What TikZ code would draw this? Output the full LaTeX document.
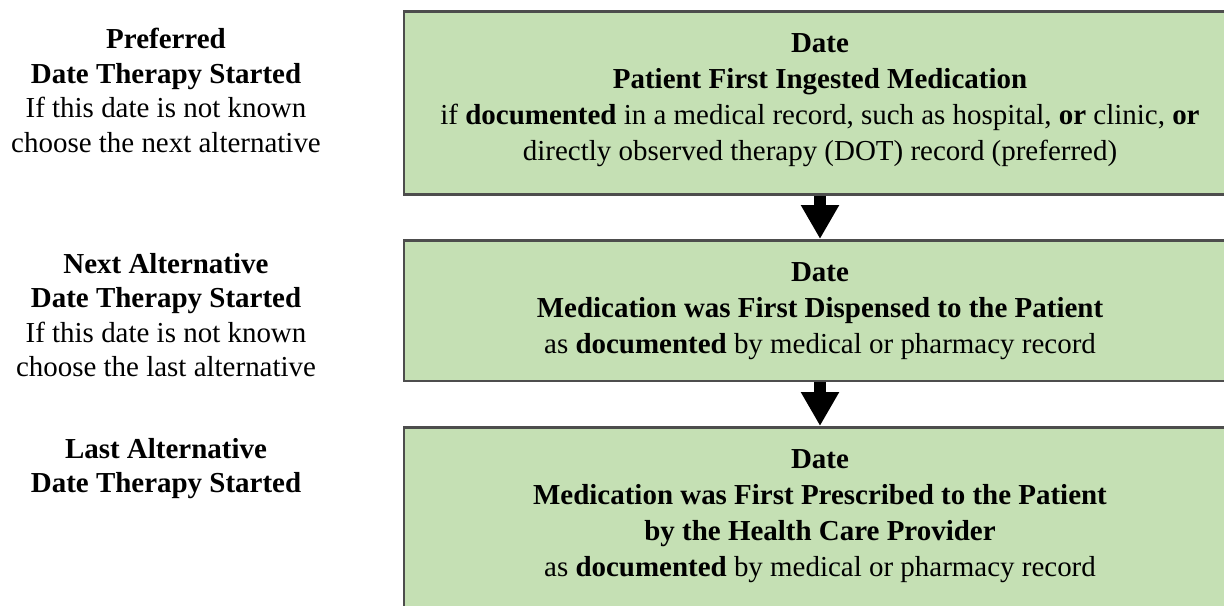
\documentclass[tikz,border=0pt]{standalone}
\usepackage{fontspec}
\setmainfont{Liberation Serif}
\usetikzlibrary{arrows.meta,positioning}
\definecolor{boxgreen}{HTML}{C5E0B4}
\definecolor{boxline}{HTML}{4D4D4D}

\begin{document}
\begin{tikzpicture}[
	datebox/.style={draw=boxline, line width=1.8pt, fill=boxgreen, anchor=north, minimum width=20.8cm, align=center, inner ysep=0.56cm, font=\fontsize{20.6}{25.6}\selectfont},
	sidelabel/.style={anchor=north, align=center, inner sep=0pt, font=\fontsize{20.6}{24.5}\selectfont},
	bigarrow/.style={line width=0.3cm, -{Triangle[width=0.9cm,length=0.85cm]}}
	]
	\useasboundingbox (0,0) rectangle (30.6,-15.125);
	
	% the three dates, most preferred first
	\node[datebox, text depth=0.29cm] (ingested) at (20.5,-0.25) {\textbf{Date}\\ \textbf{Patient First Ingested Medication}\\ if \textbf{documented} in a medical record, such as hospital, \textbf{or} clinic, \textbf{or}\\ directly observed therapy (DOT) record (preferred)};
	\node[datebox, text depth=0.12cm] (dispensed) at (20.5,-5.975) {\textbf{Date}\\ \textbf{Medication was First Dispensed to the Patient}\\ as \textbf{documented} by medical or pharmacy record};
	\node[datebox, text depth=2cm] (prescribed) at (20.5,-10.65) {\textbf{Date}\\ \textbf{Medication was First Prescribed to the Patient}\\ \textbf{by the Health Care Provider}\\ as \textbf{documented} by medical or pharmacy record};
	
	\draw[bigarrow] (ingested.south) -- (dispensed.north);
	\draw[bigarrow] (dispensed.south) -- (prescribed.north);
	
	% labels on the left
	\node[sidelabel] (preferred) at (4.15,-0.7) {\textbf{Preferred}\\ \textbf{Date Therapy Started}\\ If this date is not known\\ choose the next alternative};
	\node[sidelabel] (nextalt) at (4.15,-6.325) {\textbf{Next Alternative}\\ \textbf{Date Therapy Started}\\ If this date is not known\\ choose the last alternative};
	\node[sidelabel] (lastalt) at (4.15,-10.95) {\textbf{Last Alternative}\\ \textbf{Date Therapy Started}};
\end{tikzpicture}
\end{document}
